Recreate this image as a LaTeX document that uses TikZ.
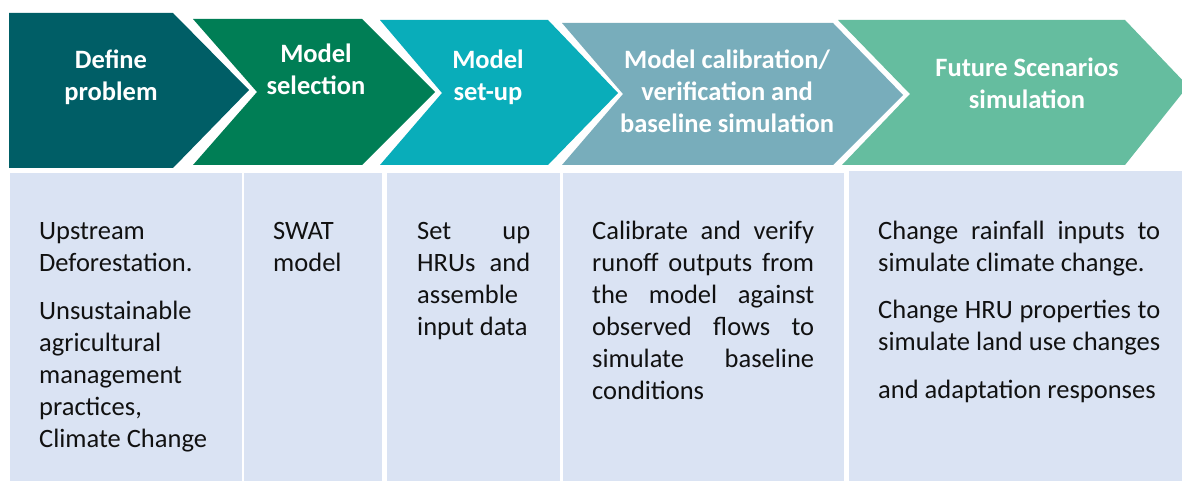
\documentclass[tikz,border=0pt]{standalone}
\usepackage{fontspec}
\setmainfont{Carlito}
\definecolor{cA}{HTML}{005E66}
\definecolor{cB}{HTML}{007E55}
\definecolor{cC}{HTML}{09ADBA}
\definecolor{cD}{HTML}{78ADBB}
\definecolor{cE}{HTML}{65BD9F}
\definecolor{boxfill}{HTML}{DAE3F3}
\definecolor{bodytext}{HTML}{111111}
\tikzset{
  head/.style={anchor=north, inner sep=0pt, align=center, text=white,
    font=\bfseries\fontsize{26.5}{32}\selectfont},
  body/.style={anchor=north west, inner sep=0pt, align=left, text=bodytext,
    font=\fontsize{26.5}{32}\selectfont},
  panel/.style={fill=boxfill, draw=none},
}
\begin{document}
\begin{tikzpicture}[x=1pt,y=-1pt]
\clip (0,0) rectangle (1182,481);
\fill[white] (0,0) rectangle (1182,481);
% chevrons
\fill[cA] (9,13) -- (173,13) -- (249,90) -- (173,168) -- (9,168) -- cycle;
\fill[cB] (193,19) -- (362,19) -- (435,92) -- (362,165) -- (193,165) -- (257,92) -- cycle;
\fill[cC] (380,20) -- (548,20) -- (618,93) -- (548,165) -- (380,165) -- (442,93) -- cycle;
\fill[cD] (562,23) -- (833,23) -- (903,95) -- (833,165) -- (562,165) -- (623,94) -- cycle;
\fill[cE] (838,20) -- (1125,20) -- (1188,86) -- (1125,165) -- (842,165) -- (910,94) -- cycle;
% panels
\fill[panel] (10,173) rectangle (242,481);
\fill[panel] (244,173) rectangle (382,481);
\fill[panel] (387,173) rectangle (560,481);
\fill[panel] (563,173) rectangle (844,481);
\fill[panel] (849,171) rectangle (1182,481);
% headings
\node[head] (h1) at (111,45.6) {\strut Define\\problem};
\node[head] (h2) at (316,39.6) {\strut Model\\selection};
\node[head] (h3) at (488,46) {\strut Model\\set-up};
\node[head] (h4) at (727,46) {\strut Model calibration/\\verification and\\baseline simulation};
\node[head] (h5) at (1027,54) {\strut Future Scenarios\\simulation};
% body texts
\node[body] (t1) at (39,217) {\strut Upstream\\Deforestation.\\[16pt]Unsustainable\\agricultural\\management\\practices,\\Climate Change};
\node[body] (t2) at (273,217) {\strut SWAT\\model};
\node[body] (t3) at (417,217) {\strut\makebox[113pt][s]{Set up}\\\makebox[113pt][s]{HRUs and}\\assemble\\input data};
\node[body] (t4) at (592,217) {\strut\makebox[222pt][s]{Calibrate and verify}\\\makebox[222pt][s]{runoff outputs from}\\\makebox[222pt][s]{the model against}\\\makebox[222pt][s]{observed flows to}\\\makebox[222pt][s]{simulate baseline}\\conditions};
\node[body] (t5) at (878,217) {\strut\makebox[282pt][s]{Change rainfall inputs to}\\simulate climate change.\\[15pt]\makebox[282pt][s]{Change HRU properties to}\\\makebox[282pt][s]{simulate land use changes}\\[16pt]and adaptation responses};
\end{tikzpicture}
\end{document}
